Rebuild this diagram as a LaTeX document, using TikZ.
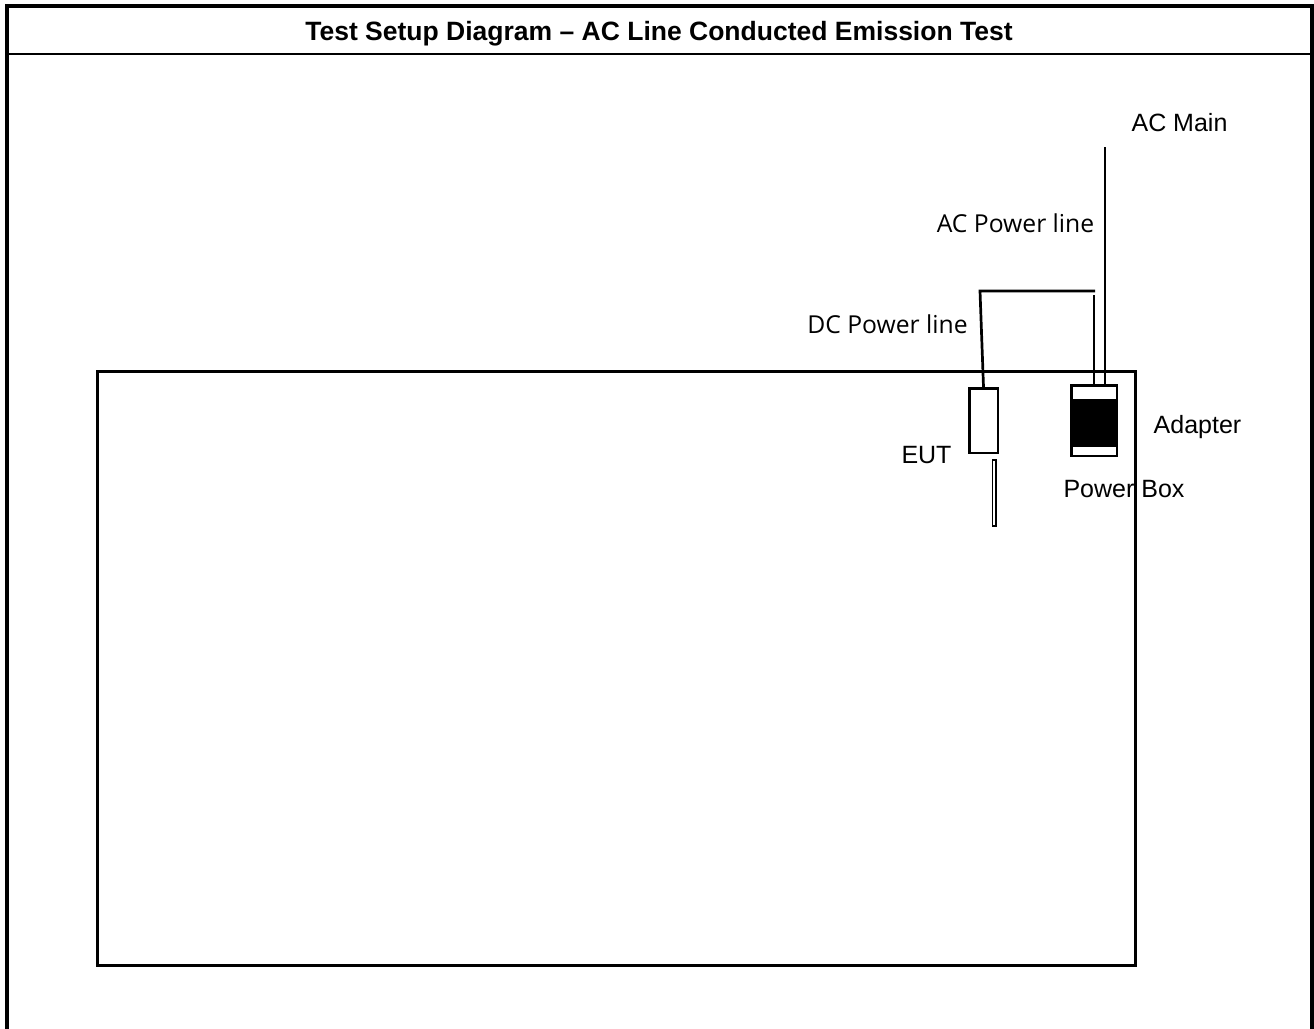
\documentclass[tikz,border=0pt]{standalone}
\usepackage{fontspec}
\setmainfont{Liberation Sans}
\newfontfamily\segoe{Open Sans}
\begin{document}
\begin{tikzpicture}[x=1pt,y=-1pt,
  lbl/.style={font=\fontsize{25}{28}\selectfont, inner sep=0pt, anchor=base},
  seg/.style={font=\segoe\fontsize{24.7}{28}\selectfont, inner sep=0pt, anchor=base},
  wire/.style={line width=2.7pt},
  box/.style={draw, line width=2.5pt, inner sep=0pt, fill=white}]
\useasboundingbox (0,0) rectangle (1314,1028);
% outer frame
\draw[line width=4pt] (7,1030) -- (7,5.5) -- (1312,5.5) -- (1312,1030);
\draw[line width=2.7pt] (7,54) -- (1312,54);
\node[font=\bfseries\fontsize{26.5}{30}\selectfont, inner sep=0pt, anchor=base] (title) at (659,40.5) {Test Setup Diagram – AC Line Conducted Emission Test};
% table / ground plane
\node[draw, line width=3pt, inner sep=0pt, minimum width=1037.5pt, minimum height=594pt] (table) at (616.25,668) {};
% EUT
\node[box, minimum width=28.5pt, minimum height=64.5pt] (eut) at (983.5,420.5) {};
\node[draw, line width=1.6pt, inner sep=0pt, minimum width=3.4pt, minimum height=66.5pt] (tail) at (994.2,493) {};
% Adapter
\fill (1070,399) rectangle (1118,447);
\node[draw, line width=2.5pt, inner sep=0pt, minimum width=45.5pt, minimum height=70.5pt] (adapter) at (1094,420.5) {};
% wires
\coordinate (dc1) at (980,291);
\coordinate (dc2) at (1095,291);
\coordinate (dc3) at (1094,295);
\coordinate (acm) at (1105,147);
\draw[wire] (eut.north) -- (dc1) -- (dc2);
\draw[wire] (dc3) -- (dc3 |- adapter.north);
\draw[wire] (acm) -- (acm |- adapter.north);
% labels
\node[lbl] (lacmain) at (1179.5,131) {AC Main};
\node[seg] (lacpower) at (1015.5,232) {AC Power line};
\node[seg] (ldcpower) at (887.5,333) {DC Power line};
\node[lbl] (leut) at (926.5,463) {EUT};
\node[lbl] (ladapter) at (1197.5,433) {Adapter};
\node[lbl] (lpowerbox) at (1124,497) {Power Box};
\end{tikzpicture}
\end{document}
